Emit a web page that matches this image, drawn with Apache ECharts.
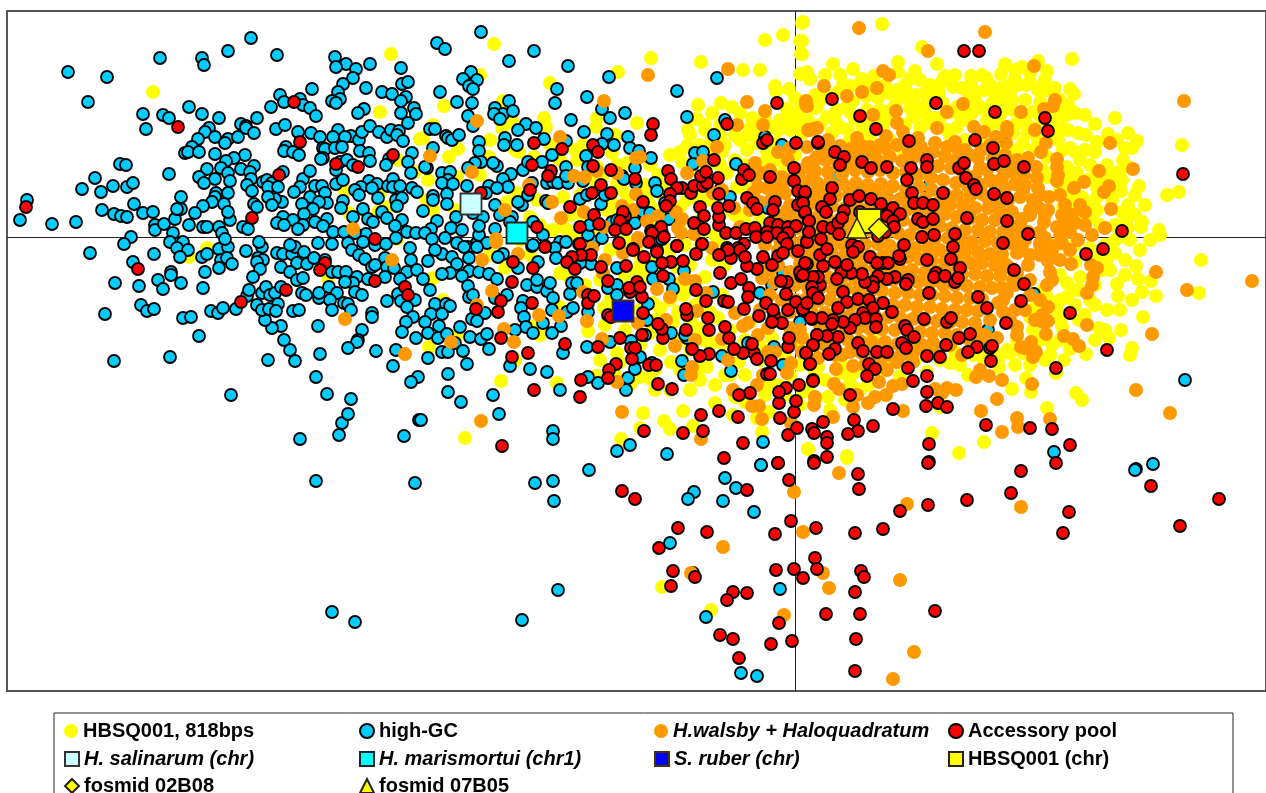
<!DOCTYPE html>
<html><head><meta charset="utf-8"><style>html,body{margin:0;padding:0;background:#fff;overflow:hidden}#c{width:1266px;height:793px}</style>
<script src="https://cdn.jsdelivr.net/npm/echarts@6/dist/echarts.min.js"></script></head><body><div id="c"></div>
<script>
const hbsq818=[[153,92],[391,54],[380,112],[423,138],[207,248],[189,257],[328,278],[345,191],[349,213],[380,193],[388,207],[398,160],[415,172],[378,212],[397,239],
[494,44],[480,75],[550,83],[618,72],[651,58],[701,62],[743,70],[760,70],[765,40],[783,35],[802,23],[800,41],[801,54],[800,74],[807,72],[810,79],[775,86],[776,91],[789,89],[795,98],[698,105],[712,113],[721,103],[732,107],[697,119],[688,130],[740,113],[752,118],[750,128],[787,109],[773,127],[797,118],[808,120],[815,108],[444,106],[503,101],[544,118],[546,127],[502,128],[513,123],[490,140],[458,149],[449,157],[519,152],[534,157],[489,157],[420,139],[433,125],[597,118],[596,127],[637,123],[615,135],[575,150],[577,160],[612,153],[617,165],[627,163],[583,145],[597,167],[603,175],[617,183],[622,190],[645,185],[658,175],[680,152],[682,162],[687,146],[722,152],[712,152],[747,150],[757,143],[767,152],[775,160],[753,170],[727,173],[737,187],[687,200],[680,207],[663,210],[627,200],[647,197],[698,197],[710,200],[710,163],[428,180],[457,177],[427,200],[433,210],[517,193],[507,202],[537,200],[563,197],[563,227],[577,213],[530,217],[553,230],[567,230],[607,210],[617,207],[660,193],[753,120],[777,143],[790,130],[803,133],[763,163],
[501,381],[465,438],[557,383],[596,376],[604,308],[429,347],[617,353],[620,362],[640,377],[649,378],[655,390],[671,362],[670,390],[680,370],[643,413],[664,421],[670,429],[640,428],[683,411],[693,426],[621,439],[762,432],[808,449],[757,418],[769,412],[733,415],[715,403],[735,397],[739,362],[707,367],[700,367],[722,343],[712,343],[703,340],[588,331],[560,307],[540,335],[533,327],[567,275],[560,273],[433,278],[443,300],[457,335],[515,360],[660,308],[653,303],[678,312],[683,295],[680,283],[660,273],[650,333],[673,322],[698,328],[710,343],[677,267],[637,270],[643,277],[690,320],[702,297],
[882,24],[803,22],[802,41],[802,54],[922,47],[833,64],[853,69],[898,62],[898,72],[937,64],[1072,59],[1038,61],[1047,71],[1005,64],[1001,74],[1015,70],[1022,67],[1030,73],[915,71],[910,79],[945,76],[942,81],[953,87],[971,76],[971,84],[982,75],[986,78],[985,90],[995,92],[1002,98],[969,94],[1015,78],[1008,86],[1018,85],[1026,85],[1038,90],[1047,90],[1070,89],[1074,94],[1075,113],[1065,116],[1095,124],[1115,118],[1108,134],[1128,133],[1137,141],[1078,133],[1060,128],[1097,142],[1117,140],[1125,148],[1132,148],[1123,160],[1128,167],[1182,145],[1139,186],[1179,192],[1167,195],[1121,191],[1095,152],[1080,160],[1090,165],[1070,148],[1063,150],[1058,140],[1053,130],[1067,167],[1077,173],[1087,180],[1097,187],[1110,178],[1097,197],[1087,207],[1097,210],[1122,212],[1125,214],[1142,222],[1141,227],[1159,230],[1160,235],[1128,227],[1120,237],[1063,207],[1077,207],[1063,190],[1072,177],[1047,177],[843,84],[850,86],[862,79],[874,76],[888,93],[897,90],[907,93],[915,95],[925,93],[933,93],[939,93],[900,98],[913,102],[927,103],[943,103],[957,107],[980,107],[985,110],[1003,110],[1013,110],[1033,112],[1030,127],[1017,123],[1000,123],[987,120],[967,120],[957,127],[947,130],[927,123],[913,117],[887,112],[880,110],[867,110],[847,107],[837,110],[827,117],[817,107],[807,73],[810,79],[840,127],[848,130],[863,127],[883,127],[903,150],[1033,150],[1023,143],[1017,150],[1013,133],[1027,133],[1043,170],[1047,157],[1067,180],[1070,197],
[1201,260],[1136,266],[1138,279],[1151,281],[1142,292],[1156,296],[1199,293],[1117,284],[1118,296],[1107,310],[1143,317],[1099,328],[1121,330],[1109,338],[1132,348],[1130,355],[1086,354],[1070,349],[1064,360],[1062,327],[1079,320],[1056,373],[1026,378],[1012,389],[1031,392],[1076,393],[1082,400],[1047,408],[932,433],[984,442],[959,453],[847,456],[808,449],[950,363],[999,367],[973,355],[983,358],[1010,353],[1023,353],[1033,330],[1030,317],[1035,308],[1057,310],[1067,297],[1090,300],[1080,290],[1067,283],[1080,277],[1102,270],[1115,253],[1107,258],[850,383],[847,373],[828,397],[808,387],[803,392],[940,407],[880,353],[818,367],[840,373],[807,340],[802,337],[872,337],[917,347],[910,320],[1007,350],[987,357],[1017,340],[1047,297],[1043,290],[1060,300],[1053,277],[1003,260],[662,587],[711,610],[847,458],
[826,95],[838,92],[853,101],[866,96],[878,98],[820,125],[832,133],[855,119],[872,122],[892,118],[905,125],[920,112],[935,118],[950,112],[972,113],[993,102],[1000,115],[1012,100],[1025,100],[1040,102],[1052,118],[1060,108],[1042,125],[1068,130],[1086,135],[1075,152],[1085,150],[1096,170],[1107,165],[1118,172],[1112,200],[1082,197],[1092,218],[1080,220],[1115,225],[1128,205],[1070,210],[1060,190],[1058,245],[1075,245],[1090,248],[1105,245],[1075,262],[1060,275],[1075,290],[1095,285],[1040,340],[1052,345],[1045,360],[1000,356],[1015,365],[1030,365],[960,365],[968,375],[955,352],[940,360],[927,372],[915,360],[900,376],[893,362],[880,372],[868,385],[855,372],[840,362],[825,380],[815,372],[800,365],[790,375],[778,385],[765,395],[745,402],[730,375],[745,340],[760,345],[772,338],[730,330],[750,322],[718,318],[710,312],[722,295],[695,305],[688,290],[705,277],[690,265],[712,260],[725,265],[700,245],[715,235],[735,215],[720,215],[700,220],[745,222],[760,220],[775,220],[705,130],[720,125],[735,135],[748,135],[765,118],[778,130],[790,122],[800,110],[700,145],[712,140],[725,145],[760,132],[772,150],[785,165],[795,155],[745,165],
[815,95],[825,75],[840,75],[858,85],[870,88],[885,85],[905,85],[920,80],[930,85],[955,75],[962,88],[975,92],[990,85],[1000,88],[1010,92],[1030,82],[1045,80],[1055,88],[1060,100],[1068,105],[1085,115],[1050,135],[1038,140],[820,100],[835,120],[850,112],[880,120],[895,105],[910,108],[925,112],[940,118],[960,115],[975,100],[990,125],[1010,130],[1025,120],[1040,115],[950,135],[965,140],[985,145],[1000,150],[920,128],[890,140],[870,135],[850,140],[830,145],
[1075,200],[1090,205],[1100,225],[1115,240],[1125,225],[1135,215],[1100,180],[1112,190],[1122,180],[1135,195],[1145,205],[1130,240],[1140,250],[1150,240],[1098,255],[1110,270],[1125,260],[1125,275],[1095,305],[1075,305],[1085,315],[1060,320],[1040,305],[1060,340],[1050,355],[1095,340],[1120,310],[1132,300],[1105,330],
[575,235],[585,225],[600,235],[610,250],[625,240],[640,255],[585,285],[600,280],[625,275],[640,265],[655,260],[670,250],[685,245],[610,300],[625,310],[640,310],[655,320],[670,300],[680,340],[660,350],[640,345],[625,330],[605,325],[600,360],[615,375],[630,385],[655,370],[690,390],[700,380],[715,385],[725,375],[745,375],[760,360],[785,355],[800,345],[770,385],[785,395],[800,405],[815,400],[830,410],[845,400],[860,390],[690,350],[740,395],
[650,165],[670,155],[690,170],[705,155],[720,165],[735,160],[690,135],[705,125],[720,135],[740,140],[765,170],[780,175],[745,190],[700,190],[665,185],[650,205],[640,215],[660,225],[680,230],[700,235],[720,240],[740,215],[755,180],[790,150],[800,130],[780,120],[610,200],[595,180],[570,215],[580,195],[540,225],[520,240],[530,255],[505,268],[490,255],[470,200],[455,210],[480,175],[515,150],[560,160],[550,145]];
const highGC=[[68,72],[107,77],[88,102],[160,58],[202,58],[204,65],[228,51],[251,38],[277,55],[335,57],[346,64],[336,67],[356,69],[370,64],[401,68],[353,78],[343,84],[366,88],[338,92],[340,99],[332,101],[336,103],[382,92],[392,94],[402,84],[408,82],[406,97],[401,101],[414,108],[401,113],[416,114],[312,89],[280,95],[284,102],[300,99],[303,105],[310,108],[316,116],[271,107],[364,109],[358,113],[143,114],[163,115],[169,118],[146,129],[189,107],[202,114],[219,118],[257,118],[241,124],[246,126],[246,128],[254,133],[209,128],[205,132],[215,137],[198,139],[192,147],[185,153],[188,152],[199,152],[215,154],[228,139],[238,137],[225,143],[276,129],[285,125],[298,132],[311,133],[320,137],[338,130],[333,137],[351,136],[345,137],[359,140],[362,132],[370,126],[379,132],[387,137],[391,130],[399,131],[397,135],[403,141],[408,123],[286,147],[284,151],[293,152],[299,155],[323,148],[325,149],[335,148],[342,147],[360,151],[369,153],[370,161],[323,158],[321,159],[340,162],[347,160],[353,165],[336,170],[412,153],[408,162],[389,159],[386,165],[411,173],[245,155],[234,158],[226,161],[221,168],[207,169],[254,166],[241,169],[228,173],[250,172],[199,177],[215,179],[204,183],[230,181],[251,179],[247,185],[252,191],[228,193],[216,193],[215,197],[212,202],[203,206],[224,204],[181,197],[169,174],[120,164],[126,165],[95,178],[113,186],[127,187],[133,183],[82,189],[101,192],[134,204],[102,210],[114,214],[121,216],[127,217],[143,213],[153,212],[27,200],[20,220],[52,224],[76,222],[155,225],[155,230],[164,224],[175,219],[173,233],[189,225],[181,209],[177,209],[195,213],[203,227],[207,227],[219,227],[222,233],[230,220],[228,212],[243,227],[248,229],[263,182],[267,180],[272,183],[268,187],[278,187],[283,172],[303,179],[310,171],[300,187],[294,192],[315,186],[322,186],[310,197],[325,193],[336,184],[343,180],[369,181],[377,184],[361,187],[372,188],[355,190],[359,195],[378,198],[388,186],[393,179],[393,187],[400,186],[412,188],[396,200],[402,198],[397,206],[417,192],[343,201],[341,208],[327,203],[319,202],[302,204],[282,202],[275,199],[268,197],[272,205],[254,204],[257,207],[313,209],[304,214],[283,217],[277,223],[293,220],[284,225],[303,225],[298,229],[315,222],[327,219],[323,226],[333,232],[344,232],[353,217],[363,209],[368,219],[373,222],[382,212],[387,218],[402,220],[395,226],[407,232],[416,233],[366,234],[355,233],
[131,237],[124,244],[90,253],[133,262],[154,254],[170,242],[183,242],[177,248],[188,250],[180,257],[202,257],[207,254],[219,249],[228,247],[225,239],[221,260],[227,258],[232,264],[219,268],[246,251],[262,247],[259,242],[258,258],[263,260],[257,262],[260,269],[253,277],[277,253],[283,254],[292,254],[295,247],[290,245],[304,252],[318,243],[332,244],[297,263],[281,267],[290,272],[307,264],[314,258],[325,260],[332,272],[338,272],[346,272],[348,243],[363,242],[352,250],[359,255],[365,259],[375,245],[386,244],[396,238],[410,248],[411,260],[385,258],[372,267],[387,267],[375,265],[394,268],[407,272],[417,270],[357,277],[353,283],[345,282],[368,279],[385,277],[400,279],[355,292],[362,295],[398,294],[401,301],[387,301],[415,300],[407,307],[413,317],[406,322],[402,332],[416,338],[372,313],[372,317],[362,330],[358,340],[357,342],[348,348],[376,351],[396,350],[393,366],[418,377],[411,382],[419,420],[404,436],[339,435],[342,423],[348,414],[351,399],[327,394],[316,377],[320,354],[295,361],[290,350],[284,340],[281,326],[272,328],[265,320],[268,360],[300,439],[231,395],[114,361],[170,357],[105,314],[199,336],[183,318],[191,317],[211,311],[218,313],[223,308],[236,309],[247,296],[249,290],[141,305],[147,311],[154,309],[115,283],[139,286],[158,280],[163,289],[171,272],[171,275],[181,283],[203,288],[205,272],[257,305],[262,293],[266,287],[270,295],[275,293],[281,287],[278,304],[262,310],[269,309],[276,311],[293,311],[299,310],[302,293],[306,295],[297,280],[303,278],[319,298],[319,293],[329,287],[337,293],[330,300],[344,303],[348,304],[332,310],[351,310],[318,326],
[481,32],[437,43],[445,49],[534,51],[509,61],[568,66],[609,77],[717,78],[677,91],[557,89],[555,103],[587,97],[471,72],[463,79],[477,80],[469,86],[473,89],[440,92],[457,102],[472,103],[509,101],[495,108],[503,114],[494,114],[500,119],[513,111],[468,116],[473,126],[602,109],[610,118],[625,113],[571,120],[584,132],[687,117],[725,120],[714,135],[526,124],[536,128],[518,130],[544,139],[505,138],[504,145],[517,145],[430,129],[435,129],[446,136],[448,138],[452,140],[459,135],[479,142],[479,151],[433,148],[607,134],[628,137],[602,144],[614,145],[630,148],[639,151],[651,158],[586,156],[552,155],[566,141],[566,167],[542,162],[523,170],[528,162],[511,174],[503,179],[508,187],[497,166],[493,163],[481,162],[475,163],[468,168],[427,168],[425,167],[442,173],[450,172],[448,180],[442,183],[453,184],[467,186],[489,186],[447,194],[433,196],[447,204],[433,200],[486,193],[497,188],[495,205],[483,217],[473,213],[423,211],[456,217],[451,228],[462,230],[437,221],[431,229],[425,233],[432,239],[445,238],[457,243],[468,247],[477,243],[479,235],[487,243],[495,229],[479,226],[522,205],[518,202],[546,201],[548,203],[528,195],[532,183],[547,183],[553,182],[558,183],[568,183],[566,176],[588,167],[583,181],[580,199],[587,195],[601,204],[605,195],[636,183],[635,168],[622,176],[624,179],[655,183],[657,191],[533,222],[543,235],[532,246],[512,217],[500,215],[510,222],[560,242],[566,242],[555,248],[594,242],[602,238],[588,235],[590,225],[612,222],[617,220],[635,223],[669,219],[643,212],[650,213],[665,203],[662,233],[662,239],[695,153],[703,152],[693,164],[736,164],[730,197],[765,137],[782,145],[770,202],[768,208],[720,190],
[442,254],[435,250],[452,257],[428,261],[457,264],[469,258],[464,247],[477,247],[469,271],[479,272],[489,274],[497,279],[450,273],[442,274],[462,276],[423,279],[430,290],[468,286],[469,297],[473,295],[435,304],[446,304],[450,306],[431,314],[442,314],[425,322],[439,326],[460,327],[428,333],[438,338],[447,334],[470,337],[481,339],[487,334],[489,349],[455,343],[442,352],[448,352],[463,351],[428,358],[467,364],[448,374],[448,392],[461,402],[493,395],[499,414],[421,420],[553,431],[553,439],[510,366],[530,369],[547,372],[560,390],[598,383],[588,377],[626,390],[628,378],[635,369],[640,357],[652,363],[682,361],[684,375],[722,356],[731,371],[774,347],[783,365],[630,445],[617,451],[667,454],[763,442],[761,465],[589,470],[503,254],[498,257],[518,268],[538,262],[527,285],[537,287],[537,280],[547,291],[550,283],[553,298],[523,301],[521,308],[507,295],[495,298],[485,313],[472,319],[477,321],[524,317],[526,327],[515,330],[533,333],[552,310],[543,323],[561,326],[552,333],[567,312],[573,308],[570,294],[572,283],[577,283],[588,312],[608,288],[617,285],[617,295],[617,268],[591,264],[580,263],[570,263],[556,258],[533,245],[648,304],[652,267],[653,279],[669,279],[673,289],[684,271],[713,292],[631,341],[647,320],[645,335],[671,333],[587,347],[563,353],[610,342],[748,343],[687,338],[685,335],[760,293],[772,285],[800,322],[783,273],
[1034,294],[988,330],[1054,452],[1185,380],[1153,464],[1136,469],[833,178],[928,187],[761,465],[725,478],[736,488],[694,492],[688,499],[723,501],[754,512],[670,543],[780,589],[706,617],[741,673],[757,676],[1135,470],[693,573],[332,612],[355,622],[522,620],[558,590],[316,481],[415,483],[535,483],[553,481],[554,501]];
const walsby=[[353,229],[392,260],[345,319],[405,354],
[477,121],[430,156],[472,172],[560,137],[604,101],[648,75],[728,69],[747,102],[765,111],[806,101],[807,106],[737,125],[763,125],[810,130],[817,128],[717,147],[807,147],[790,148],[817,157],[808,163],[755,163],[703,161],[636,158],[640,157],[687,173],[574,176],[585,177],[597,171],[617,173],[529,185],[552,202],[636,194],[505,210],[561,218],[584,212],[622,206],[633,210],[647,221],[658,216],[682,219],[676,212],[678,228],[681,233],[694,234],[496,239],[604,227],[638,238],[591,249],[712,248],[734,208],[740,227],[758,187],[767,188],[753,193],[750,210],[760,202],[775,187],[782,177],[785,193],[787,210],[780,218],[813,173],[817,183],[812,200],[818,190],[722,190],[713,193],[755,177],[763,173],
[482,260],[496,242],[518,254],[492,291],[477,305],[451,342],[504,329],[514,342],[539,315],[559,316],[587,321],[583,292],[602,339],[617,382],[622,412],[481,421],[701,439],[657,289],[670,297],[638,323],[666,320],[675,346],[691,375],[692,367],[695,340],[697,311],[685,279],[695,281],[706,293],[735,313],[743,326],[748,323],[722,339],[728,360],[768,352],[787,373],[791,363],[763,375],[757,385],[733,390],[752,406],[759,406],[762,419],[791,423],[605,260],[603,273],[592,248],[623,253],[638,242],
[859,28],[985,32],[928,51],[1184,101],[1034,66],[824,86],[883,71],[889,75],[877,88],[862,92],[847,96],[806,104],[947,112],[963,104],[896,111],[897,123],[903,132],[937,128],[886,136],[873,115],[857,138],[870,147],[840,146],[828,140],[813,129],[808,130],[918,138],[935,143],[947,147],[959,152],[974,127],[984,132],[996,137],[1006,143],[1007,127],[1007,132],[1021,112],[1035,130],[1046,143],[1041,152],[1044,109],[1055,100],[1053,106],[1057,159],[1057,167],[1058,175],[1057,181],[1036,167],[1037,178],[1038,188],[1010,167],[1002,178],[990,180],[980,168],[1099,171],[1110,143],[1133,169],[1084,182],[1074,188],[1109,186],[1104,192],[1111,209],[1023,192],[1020,197],[1033,200],[1038,207],[1049,197],[1048,210],[1044,222],[1022,219],[1013,227],[1040,232],[1057,227],[1067,223],[1075,223],[1085,225],[1105,228],[1092,235],[1070,232],[997,207],[987,197],
[1252,281],[1187,290],[1156,272],[1152,334],[1136,390],[1170,413],[1071,264],[1091,265],[1097,268],[1093,277],[1092,285],[1087,293],[1087,325],[1064,336],[1073,339],[1079,346],[1033,357],[1036,352],[1031,342],[1021,347],[1025,348],[1046,334],[1017,327],[1017,335],[1043,322],[1048,321],[1042,315],[1048,307],[1047,285],[1052,280],[1050,272],[1060,260],[1048,261],[1040,255],[1030,255],[1017,253],[1010,268],[1017,273],[1013,280],[1007,293],[998,303],[1003,312],[997,338],[977,332],[980,370],[976,377],[989,376],[1002,380],[1032,384],[997,399],[981,411],[1017,418],[1018,427],[1002,432],[1050,419],[956,390],[947,388],[935,389],[942,393],[903,411],[902,384],[893,386],[886,395],[875,397],[868,403],[879,382],[853,407],[857,395],[833,417],[815,397],[814,405],[834,384],[839,389],[836,369],[853,366],[887,370],[897,362],[913,362],[933,343],[925,347],[962,355],[980,340],
[839,473],[794,492],[907,504],[1021,507],[803,532],[723,547],[691,573],[823,573],[900,580],[829,588],[784,615],[914,652],[893,679],
[838,152],[850,149],[862,146],[874,152],[885,148],[897,145],[909,151],[921,147],[933,152],[945,156],[957,160],[969,155],[981,150],[993,158],[1005,155],[1017,160],[1028,158],[826,160],[838,163],[851,158],[864,156],[877,160],[890,157],[902,161],[914,157],[926,162],[938,166],[951,168],[963,172],[975,176],[987,170],[1000,166],[1012,172],[1024,175],[815,171],[828,172],[842,174],[855,170],[868,172],[880,170],[893,173],[906,172],[918,175],[931,178],[943,180],[956,183],[968,186],[981,185],[993,182],[1005,188],[1015,184],[805,182],[818,184],[830,182],[843,184],[856,183],[868,185],[881,184],[893,186],[906,189],[919,187],[932,190],[945,194],[957,195],[970,196],[982,194],[995,198],[1008,200],[800,192],[812,194],[824,195],[836,196],[849,194],[862,195],[875,193],[887,196],[900,199],[912,200],[925,199],[938,203],[950,205],[963,206],[975,208],[988,208],[1000,210],[1012,212],[808,205],[820,207],[832,206],[845,208],[857,206],[870,207],[882,210],[895,210],[908,209],[920,212],[932,212],[945,214],[957,217],[970,218],[982,220],[995,220],[1008,222],[1020,225],[802,217],[815,218],[827,218],[840,219],[852,218],[865,220],[878,221],[890,222],[903,220],[915,224],[928,225],[940,226],[952,228],[965,230],[978,230],[990,232],[1003,232],[1015,235],[1028,232],[797,228],[810,230],[822,229],[835,232],[848,230],[860,232],[872,231],[885,234],[898,233],[910,235],[922,236],[935,238],[948,238],[960,240],[972,242],[985,241],[998,243],[1010,243],[1022,245],[790,240],[803,241],[815,242],[828,241],[840,243],[852,243],[865,244],[878,244],[890,246],[903,246],[915,248],[928,248],[940,250],[953,252],[965,252],[978,252],[990,254],[1002,254],[795,252],[808,252],[820,253],[832,254],[845,254],[858,256],[870,256],[883,256],[895,258],[908,257],[920,259],[932,260],[945,262],[958,262],[970,263],[982,263],[995,265],[1006,265],[800,263],[812,264],[825,266],[838,265],[850,266],[862,268],[875,268],[888,268],[900,269],[912,270],[925,272],[938,272],[950,273],[962,274],[975,274],[987,276],[1000,276],[790,272],[805,275],[818,277],[830,278],[842,277],[855,279],[868,280],[880,279],[893,280],[905,282],[918,282],[930,283],[943,285],[955,285],[967,286],[980,287],[992,288],[1002,288],[795,285],[808,288],[820,288],[833,290],[846,289],[858,291],[870,292],[882,291],[895,293],[908,293],[920,295],[932,295],[945,296],[957,298],[970,298],[982,299],[805,300],[818,301],[830,300],[843,302],[855,303],[868,304],[880,303],[893,305],[905,305],[917,307],[930,307],[942,309],[955,310],[967,310],[978,311],[812,313],[825,313],[838,314],[850,315],[862,316],[875,316],[888,317],[900,317],[913,319],[925,320],[937,321],[950,322],[962,322],[975,323],[820,325],[832,326],[845,327],[858,328],[870,329],[882,329],[895,330],[908,331],[920,332],[932,333],[945,333],[957,335],[835,339],[848,340],[860,341],[872,342],[885,342],[898,344],[910,345],[922,345],[850,352],[862,353],[875,354],[888,355],[900,356],[912,356],
[778,152],[788,160],[770,170],[782,190],[772,198],[790,205],[775,215],[785,225],[772,232],[765,245],[778,250],[765,262],[778,265],[762,278],[775,282],[770,295],[782,300],[790,312],[778,318],[768,328],[790,328],[802,338],[790,345],[775,352],[758,335],[825,345],[835,355],[818,358],[802,352],[1040,243],[1052,250],[1062,243],[1062,215],[1072,215],[1085,212],[1080,205],[1030,215],[1045,238],[1078,240],
[1025,185],[1040,195],[1030,210],[1045,215],[1025,240],[1040,245],[1028,265],[1015,285],[1030,280],[1040,300],[1025,310],[1015,310],[1035,320],[1030,295],[1060,195],[1065,205],[1060,235],[1070,250],[1050,245],[1003,300],[1010,320],[990,320],[970,340],[985,335],[965,150],[978,158],[990,145],[955,142],[920,150],[905,140],[880,145],[860,150],[845,165],[825,150],[815,160],[800,170],[790,180],[800,205],[790,215],[780,240],[770,270],[760,310],[795,300],[815,345],[800,330],[842,355],[865,365],[880,360],[915,350],[935,350],[950,345]];
const accessory=[[26,207],[178,127],[294,102],[300,142],[336,164],[358,167],[393,155],[279,175],[252,218],[375,239],[138,269],[241,302],[286,290],[325,263],[320,270],[375,281],[405,287],[408,295],
[653,124],[651,135],[727,124],[777,103],[534,143],[562,149],[593,145],[598,152],[532,165],[551,171],[548,176],[593,166],[611,170],[635,179],[601,185],[592,193],[611,193],[530,190],[481,193],[570,207],[643,202],[625,216],[623,212],[594,215],[620,221],[580,227],[599,224],[615,230],[626,229],[537,227],[545,246],[579,244],[619,243],[633,249],[651,231],[661,227],[652,233],[649,242],[664,237],[677,246],[657,250],[668,171],[671,179],[682,188],[691,193],[694,186],[703,186],[707,183],[701,176],[706,172],[714,160],[718,178],[677,188],[670,194],[670,201],[666,206],[700,207],[704,216],[694,223],[704,229],[702,244],[719,225],[719,217],[718,208],[719,194],[729,206],[726,233],[736,233],[746,229],[755,228],[756,237],[744,244],[727,248],[738,248],[747,198],[753,203],[757,209],[742,179],[744,170],[749,175],[770,177],[763,143],[767,140],[796,143],[794,168],[794,181],[798,191],[805,193],[803,203],[798,205],[805,213],[809,221],[809,232],[807,241],[818,143],[775,202],[773,210],[770,223],[778,225],[788,227],[796,226],[767,232],[777,233],[788,233],[783,238],[767,237],[787,244],
[545,247],[580,244],[633,250],[644,257],[657,252],[677,246],[702,244],[696,254],[683,261],[671,262],[662,263],[626,266],[601,267],[591,255],[581,255],[572,257],[567,262],[575,269],[533,268],[513,262],[512,282],[501,301],[498,312],[476,309],[501,338],[512,357],[528,353],[532,303],[565,344],[598,347],[620,338],[642,335],[631,348],[635,348],[632,359],[616,364],[609,370],[608,378],[581,380],[580,397],[534,390],[649,365],[656,365],[658,384],[672,389],[502,446],[644,431],[683,433],[703,431],[701,415],[719,411],[738,417],[743,443],[724,458],[778,463],[788,435],[797,428],[794,412],[780,418],[779,403],[796,401],[786,388],[779,392],[799,385],[813,380],[750,393],[739,395],[767,374],[770,374],[771,361],[810,364],[806,353],[754,353],[757,359],[743,353],[734,349],[752,344],[788,347],[789,338],[813,345],[817,335],[709,354],[700,356],[692,349],[729,338],[725,327],[709,330],[708,318],[686,330],[687,315],[686,309],[663,338],[662,329],[658,324],[643,313],[608,315],[611,317],[588,295],[588,303],[594,296],[608,281],[637,282],[630,292],[629,288],[642,297],[640,287],[663,276],[706,301],[696,290],[724,301],[728,302],[720,273],[731,283],[741,279],[749,288],[748,297],[744,309],[759,316],[766,303],[774,316],[782,323],[772,322],[773,310],[788,310],[796,302],[803,310],[786,294],[787,282],[781,281],[812,319],[816,293],[801,276],[807,264],[800,272],[817,277],[757,269],[747,266],[731,258],[740,250],[728,250],[719,255],[745,257],[763,257],[778,256],[772,265],[783,253],[798,251],[807,242],
[964,51],[979,51],[832,99],[936,103],[995,112],[1045,118],[1048,131],[1183,174],[860,116],[876,129],[818,142],[909,141],[975,140],[993,148],[835,152],[844,157],[840,165],[862,162],[871,168],[887,167],[911,168],[927,160],[927,167],[959,168],[964,163],[994,164],[1004,161],[1024,167],[907,180],[966,178],[974,185],[976,189],[912,193],[943,193],[994,194],[1007,198],[832,188],[830,199],[805,192],[803,203],[805,212],[822,207],[826,212],[844,211],[850,200],[859,196],[871,199],[881,204],[893,208],[900,214],[887,216],[893,221],[894,227],[914,203],[923,203],[933,205],[918,219],[923,222],[933,219],[967,218],[1007,221],[809,221],[809,232],[823,227],[832,228],[838,223],[839,234],[821,239],[955,234],[922,237],[934,235],[1028,234],[1122,231],[842,218],[860,212],[878,236],[885,232],[852,245],
[1103,249],[1086,254],[1014,270],[1024,284],[1021,301],[1070,313],[978,297],[987,308],[1006,323],[1107,350],[1056,368],[1003,243],[904,245],[953,247],[951,259],[927,260],[900,259],[899,256],[960,268],[936,273],[934,277],[945,276],[955,282],[958,278],[908,280],[906,284],[895,277],[887,279],[878,276],[873,282],[873,287],[865,282],[862,274],[851,273],[841,273],[837,279],[820,285],[818,277],[813,277],[803,275],[812,287],[813,293],[818,298],[843,292],[847,302],[858,299],[869,300],[883,303],[892,312],[873,308],[863,313],[865,318],[876,319],[876,327],[855,320],[850,328],[843,322],[833,320],[832,324],[838,308],[822,318],[811,318],[803,309],[807,303],[924,319],[947,322],[951,318],[929,293],[905,326],[907,330],[914,337],[902,343],[906,348],[927,356],[940,357],[946,345],[959,338],[970,334],[977,347],[968,352],[990,348],[992,346],[991,361],[838,337],[827,336],[817,335],[813,345],[835,349],[829,354],[806,353],[810,364],[858,343],[863,351],[877,352],[887,352],[869,364],[875,369],[867,376],[908,368],[927,376],[913,381],[813,381],[927,392],[850,395],[926,406],[938,403],[947,407],[893,409],[823,422],[854,420],[873,426],[858,431],[848,434],[812,429],[814,433],[827,437],[827,443],[827,457],[814,461],[929,444],[929,462],[986,425],[1030,428],[1052,429],[1070,445],[1056,463],[1021,471],[805,263],[823,266],[820,255],[827,249],[835,262],[847,265],[858,247],[853,252],[870,257],[883,263],[888,263],[877,263],
[622,491],[635,499],[747,490],[789,480],[859,489],[858,474],[778,463],[814,463],[928,463],[1151,486],[1219,499],[1011,493],[967,500],[928,505],[900,511],[1069,512],[1180,526],[1063,533],[883,529],[855,533],[816,528],[791,521],[775,534],[707,532],[678,528],[659,548],[815,558],[817,569],[794,569],[776,570],[803,578],[861,571],[864,577],[673,571],[695,577],[671,586],[733,592],[747,593],[727,600],[855,592],[860,614],[826,614],[935,611],[779,623],[720,635],[733,639],[771,644],[792,641],[856,639],[739,658],[855,671]];
const salinarum=[[471,204]];
const marismortui=[[517,233]];
const ruber=[[623,311]];
const hbsqChr=[[869,221]];
const fosmid02=[[879,229]];
const fosmid07=[[857,228]];
const crossX=795, crossY=237;
const names=["HBSQ001, 818bps","high-GC","H.walsby + Haloquadratum","Accessory pool","H. salinarum (chr)","H. marismortui (chr1)","S. ruber (chr)","HBSQ001 (chr)","fosmid 02B08","fosmid 07B05"];
function s(i,data,symbol,size,color,bColor,bWidth,extra){return Object.assign({type:'scatter',name:names[i],data,symbol,symbolSize:size,silent:true,progressive:0,large:false,itemStyle:{color,opacity:1,borderColor:bColor,borderWidth:bWidth}},extra||{});}
const series=[
 s(0,hbsq818,'circle',14,'#ffff00','#ffff00',0,{markLine:{silent:true,z:1,symbol:'none',animation:false,label:{show:false},lineStyle:{color:'#222',width:1,type:'solid',opacity:1},data:[{xAxis:crossX},{yAxis:crossY}]}}),
 s(1,highGC,'circle',12,'#00ccff','#000',1.8),
 s(2,walsby,'circle',14,'#ff9900','#ff9900',0),
 s(3,accessory,'circle',12,'#ff0000','#000',1.8),
 s(4,salinarum,'rect',21,'#ccffff','#333',1.8),
 s(5,marismortui,'rect',21,'#00ffff','#222',1.8),
 s(6,ruber,'rect',21,'#0000ff','#443300',1.8),
 s(7,hbsqChr,'rect',24,'#ffff00','#222',1.8),
 s(8,fosmid02,'diamond',21,'#ffff00','#222',1.5),
 s(9,fosmid07,'triangle',20,'#ffff00','#222',1.5)
];
const legendPos=[[64,721],[359,721],[654,721],[948,721],[64,749],[359,749],[654,749],[948,749],[64,776],[359,776]];
const italic=[false,false,true,false,true,true,true,false,false,false];
const legends=names.map((n,i)=>({data:[n],left:legendPos[i][0],top:legendPos[i][1],orient:'horizontal',padding:0,itemWidth:14,itemHeight:14,itemGap:0,selectedMode:false,textStyle:{fontFamily:'Liberation Sans',fontWeight:'bold',fontSize:20,color:'#000',fontStyle:italic[i]?'italic':'normal',padding:[0,0,0,0]}}));
const chart=echarts.init(document.getElementById('c'),null,{renderer:'canvas'});
chart.setOption({animation:false,backgroundColor:'#fff',
 grid:{show:true,left:7,right:0,top:11,bottom:102,borderColor:'#555',borderWidth:2,backgroundColor:'#fff'},
 xAxis:{type:'value',min:7,max:1266,show:false,splitLine:{show:false}},
 yAxis:{type:'value',min:11,max:691,inverse:true,show:false,splitLine:{show:false}},
 legend:legends,
 graphic:[{type:'rect',shape:{x:54,y:713,width:1179,height:120},style:{fill:'#fff',stroke:'#222',lineWidth:1},silent:true,z:-1}],
 series});
</script></body></html>
